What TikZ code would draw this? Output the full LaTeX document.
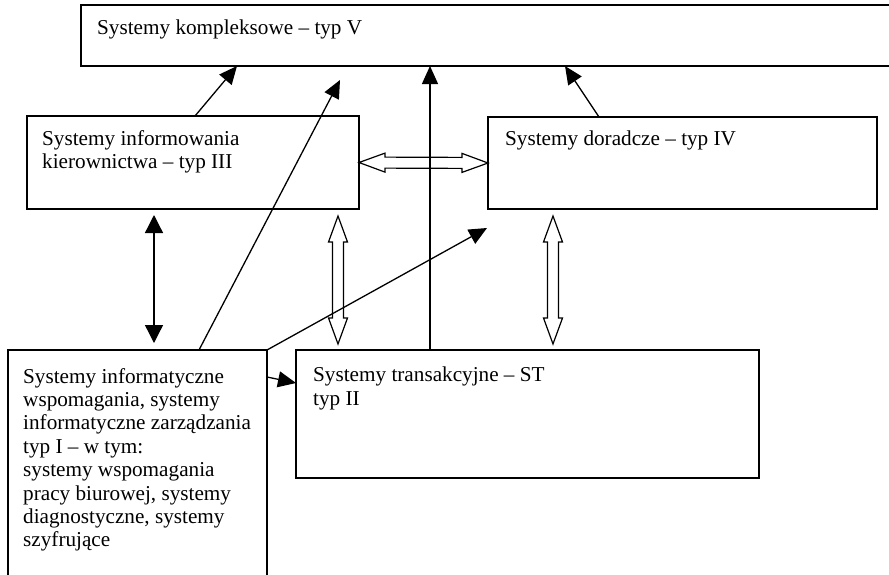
\documentclass[tikz,border=0pt]{standalone}
\usepackage{fontspec}
\setmainfont{Liberation Serif}
\usetikzlibrary{arrows.meta,calc}

% Outlined double-headed block arrow between two points
\newcommand\hollowpair[2]{%
  \draw[hollowarrow] (#1)
    -- ($(#1)!26pt!(#2)!9.5pt!90:(#2)$)
    -- ($(#1)!26pt!(#2)!5.5pt!90:(#2)$)
    -- ($(#2)!26pt!(#1)!5.5pt!-90:(#1)$)
    -- ($(#2)!26pt!(#1)!9.5pt!-90:(#1)$)
    -- (#2)
    -- ($(#2)!26pt!(#1)!9.5pt!90:(#1)$)
    -- ($(#2)!26pt!(#1)!5.5pt!90:(#1)$)
    -- ($(#1)!26pt!(#2)!5.5pt!-90:(#2)$)
    -- ($(#1)!26pt!(#2)!9.5pt!-90:(#2)$)
    -- cycle;}

\tikzset{
  box/.style={draw, line width=1.4pt, rectangle, inner sep=0pt, outer sep=0pt, anchor=north west},
  label/.style={inner sep=0pt, anchor=north west, align=left,
    font=\fontsize{21.2}{23.4}\selectfont},
  link/.style={line width=1.3pt, -{Triangle[length=18pt,width=16pt]}},
  twoway/.style={line width=1.3pt, {Triangle[length=18pt,width=18pt]}-{Triangle[length=18pt,width=18pt]}},
  hollowarrow/.style={draw, line width=1.2pt, fill=white, line join=miter},
}

\begin{document}
\begin{tikzpicture}[x=1pt, y=-1pt]
  \useasboundingbox (0,0) rectangle (889,574);
  \clip (0,0) rectangle (889,574);

  % boxes
  \node[box, minimum width=830pt, minimum height=61pt] (V) at (81,5) {};
  \node[box, minimum width=332pt, minimum height=93pt] (III) at (27,116) {};
  \node[box, minimum width=389pt, minimum height=92pt] (IV) at (488,117) {};
  \node[box, minimum width=259pt, minimum height=250pt] (I) at (8,350) {};
  \node[box, minimum width=463pt, minimum height=128pt] (ST) at (296,350) {};

  % texts
  \node[label] (tV) at ([xshift=16pt, yshift=-15pt]V.north west) {Systemy kompleksowe – typ V};
  \node[label] (tIII) at ([xshift=15pt, yshift=-14pt]III.north west) {Systemy informowania\\kierownictwa – typ III};
  \node[label] (tIV) at ([xshift=17pt, yshift=-14pt]IV.north west) {Systemy doradcze – typ IV};
  \node[label] (tST) at ([xshift=17pt, yshift=-17pt]ST.north west) {Systemy transakcyjne – ST\\typ II};
  \node[label] (tI) at ([xshift=15pt, yshift=-18pt]I.north west) {Systemy informatyczne\\wspomagania, systemy\\informatyczne zarządzania\\typ I – w tym:\\systemy wspomagania\\pracy biurowej, systemy\\diagnostyczne, systemy\\szyfrujące};

  % end points of the free connectors
  \coordinate (IIIlow) at ([xshift=311pt, yshift=-7pt]III.south west);
  \coordinate (STleft) at ([xshift=42pt, yshift=6pt]ST.north west);
  \coordinate (IVlow) at ([xshift=65pt, yshift=-7pt]IV.south west);
  \coordinate (STright) at ([xshift=257pt, yshift=6pt]ST.north west);
  \coordinate (IIIdown) at ([xshift=127pt, yshift=-6pt]III.south west);
  \coordinate (Iup) at ([xshift=146pt, yshift=7pt]I.north west);
  \coordinate (Vfree) at (340,80);
  \coordinate (IVfree) at ([xshift=-1pt, yshift=-19pt]IV.south west);

  % block arrows
  \hollowpair{III.east}{IV.west}
  \hollowpair{IIIlow}{STleft}
  \hollowpair{IVlow}{STright}

  % connectors
  \draw[twoway] (IIIdown) -- (Iup);
  \draw[link] ([xshift=168pt]III.north west) -- ([xshift=156pt]V.south west);
  \draw[link] ([xshift=111pt]IV.north west) -- ([xshift=484pt]V.south west);
  \draw[link] ([xshift=134pt]ST.north west) -- ([xshift=349pt]V.south west);
  \draw[link] ([xshift=191pt]I.north west) -- (Vfree);
  \draw[link] (I.north east) -- (IVfree);
  \draw[link] ([yshift=-27pt]I.north east) -- ([yshift=-33pt]ST.north west);
\end{tikzpicture}
\end{document}
